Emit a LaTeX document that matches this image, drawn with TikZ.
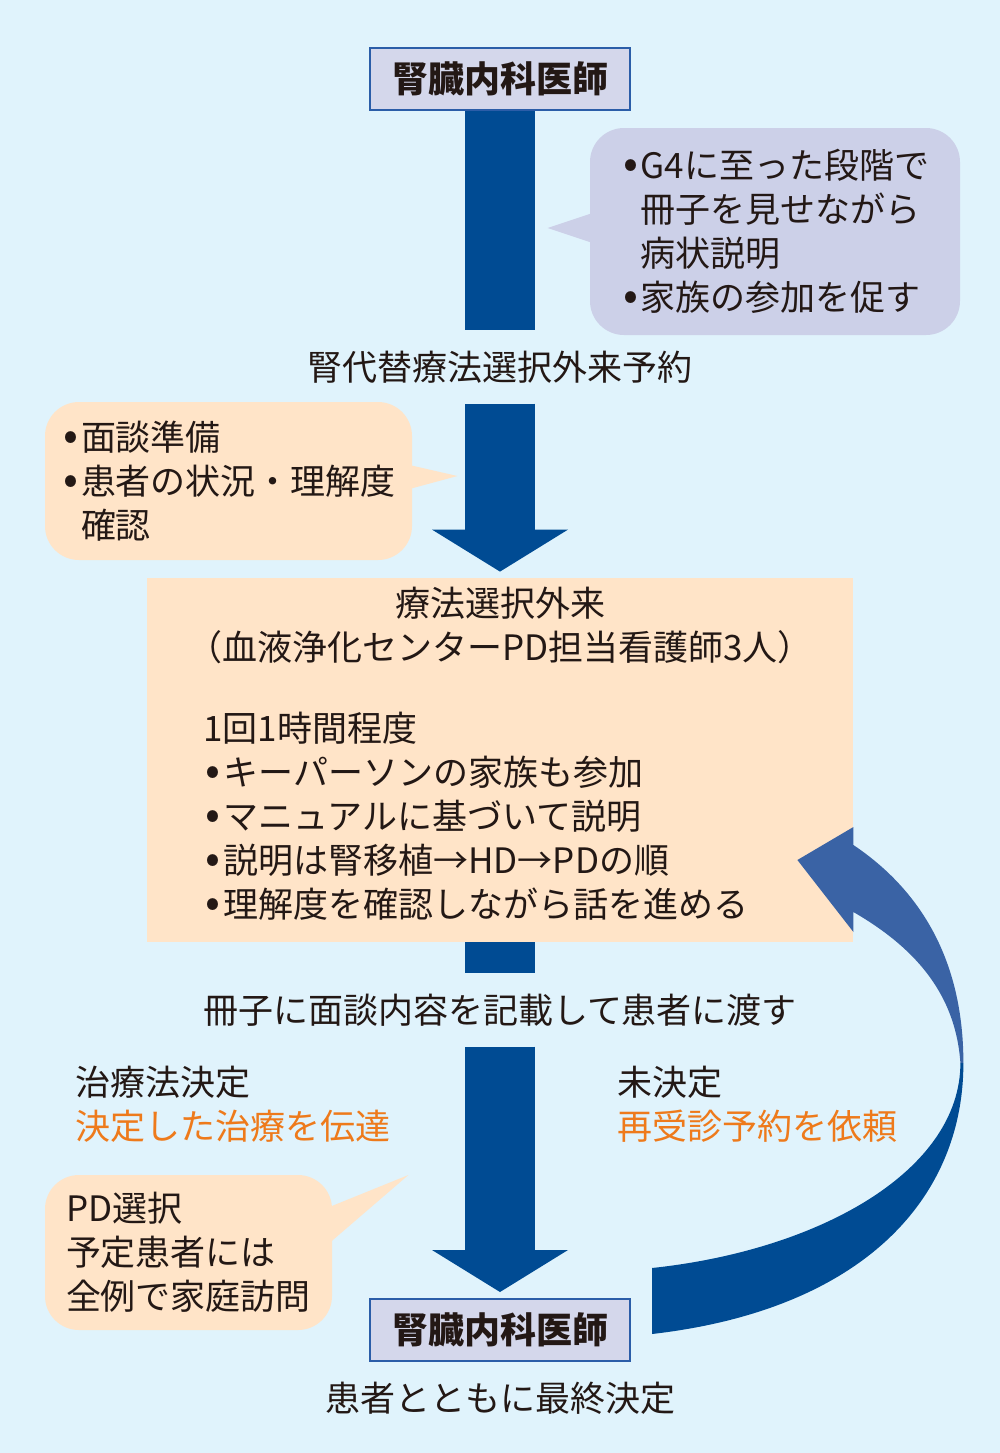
\documentclass[tikz,border=0pt]{standalone}
\usepackage{fontspec}
\setmainfont{Noto Sans CJK JP}
\usepackage{tikz}
\usetikzlibrary{arrows.meta,positioning,calc}
\definecolor{paper}{HTML}{E0F3FC}
\definecolor{flowblue}{HTML}{004B93}
\definecolor{looplight}{HTML}{3A63A5}
\definecolor{boxfill}{HTML}{D4D7EB}
\definecolor{boxedge}{HTML}{2B5DA8}
\definecolor{lavender}{HTML}{CCD0E8}
\definecolor{peach}{HTML}{FFE4C8}
\definecolor{tangerine}{HTML}{EE7A1B}
\definecolor{ink}{HTML}{231815}
\newcommand{\bodyfont}{\fontsize{17.5}{22}\selectfont}
\newcommand{\bul}{\makebox[10pt][c]{\fontsize{22}{22}\selectfont •}}
\newcommand{\nobul}{\hspace*{10pt}}
\tikzset{
  docbox/.style={
    rectangle, draw=boxedge, fill=boxfill, line width=1pt,
    minimum width=130pt, minimum height=31pt, inner sep=0pt,
    font=\fontsize{18}{22}\selectfont\bfseries, text=ink
  },
  notebox/.style={
    rectangle, rounded corners=17pt, fill=#1,
    align=left, inner sep=0pt, font=\bodyfont, text=ink
  },
  notebox/.default=peach,
  clinicbox/.style={
    rectangle, fill=peach, inner sep=0pt,
    minimum width=353pt, minimum height=182pt
  },
  labelnode/.style={
    font=\bodyfont, text=ink, inner xsep=0pt, inner ysep=10pt
  },
  flowline/.style={draw=flowblue, line width=35pt},
  flowhead/.style={
    flowline, -{Triangle[length=21pt, width=68pt, line width=0pt]}, shorten >=3pt
  },
}
\begin{document}
\begin{tikzpicture}[x=0.5pt, y=-0.5pt]
  \useasboundingbox (0,0) rectangle (1000,1453);
  \fill[paper] (0,0) rectangle (1000,1453);

  % Doctor at the top
  \node[docbox] (docA) at (500,79) {腎臓内科医師};
  \node[labelnode] (appt) at (500,367) {腎代替療法選択外来予約};
  \draw[flowline] (docA.south) -- (appt.north);

  % Note beside the first step
  \node[notebox=lavender, minimum width=185pt, minimum height=103.5pt] (noteA) at (775,231.5)
    {\bul G4に至った段階で\\\nobul 冊子を見せながら\\\nobul 病状説明\\\bul 家族の参加を促す};
  \fill[lavender] ($(noteA.west)+(3,-18.5)$) -- ($(noteA.west)+(-42,-3.5)$) -- ($(noteA.west)+(3,11.5)$) -- cycle;

  % Preparation note
  \node[notebox, minimum width=183.5pt, minimum height=79pt] (noteB) at (228.5,481)
    {\bul 面談準備\\\bul 患者の状況・理解度\\\nobul 確認};
  \fill[peach] ($(noteB.east)+(-3,-16)$) -- ($(noteB.east)+(45,-5)$) -- ($(noteB.east)+(-3,8)$) -- cycle;

  % Clinic box
  \node[clinicbox] (clinic) at (500,760) {};
  \node[labelnode, inner ysep=0pt, align=center] (clinichead) at (500,625)
    {療法選択外来\\（血液浄化センターPD担当看護師3人）};
  \node[labelnode, inner ysep=0pt, align=left, anchor=west] (clinicbody) at (203,816)
    {1回1時間程度\\\bul キーパーソンの家族も参加\\\bul マニュアルに基づいて説明\\\bul 説明は腎移植→HD→PDの順\\\bul 理解度を確認しながら話を進める};
  \draw[flowhead] (appt.south) -- (clinic.north);

  % Booklet handed over
  \node[labelnode] (hand) at (500,1010) {冊子に面談内容を記載して患者に渡す};
  \draw[flowline] (clinic.south) -- (hand.north);

  % Two outcomes
  \node[labelnode, inner ysep=0pt, align=left, anchor=west] (decided) at (75,1104)
    {治療法決定\\\textcolor{tangerine}{決定した治療を伝達}};
  \node[labelnode, inner ysep=0pt, align=left, anchor=west] (pending) at (617,1104)
    {未決定\\\textcolor{tangerine}{再受診予約を依頼}};

  % Home visit note
  \node[notebox, minimum width=143.5pt, minimum height=77.5pt] (noteC) at (188.5,1252.5)
    {PD選択\\予定患者には\\全例で家庭訪問};
  \fill[peach] ($(noteC.east)+(-3,-45.5)$) -- ($(noteC.east)+(76,-77.5)$) -- ($(noteC.east)+(-3,-9.5)$) -- cycle;

  % Doctor at the bottom
  \node[docbox] (docB) at (500,1330) {腎臓内科医師};
  \node[labelnode, inner ysep=0pt] (final) at (500,1398) {患者とともに最終決定};
  \draw[flowhead] (hand.south) -- (docB.north);

  % Loop back to the clinic
  \coordinate (loopout) at ($(docB.east)+(21,4)$);
  \coordinate (loopin) at ($(docB.east)+(21,-62)$);
  \coordinate (loopmid) at ($(clinic.east)+(110,303)$);
  \coordinate (headout) at ($(clinic.east)+(0,85)$);
  \coordinate (headin) at ($(clinic.east)+(0,152)$);
  \fill[flowblue] (loopout) .. controls +(209,-24) and +(0,137) .. (loopmid)
    -- ++(-3,0) .. controls +(0,107) and +(169,-18) .. (loopin) -- cycle;
  \fill[looplight] (loopmid) .. controls +(0,-103) and +(67,45) .. (headout)
    -- ++(0,-18) -- ($(clinic.east)+(-56,100)$) -- ($(clinic.east)+(0,172)$)
    -- (headin) .. controls +(57,33) and +(-5,-73) .. ($(loopmid)+(-3,0)$) -- cycle;
\end{tikzpicture}
\end{document}
